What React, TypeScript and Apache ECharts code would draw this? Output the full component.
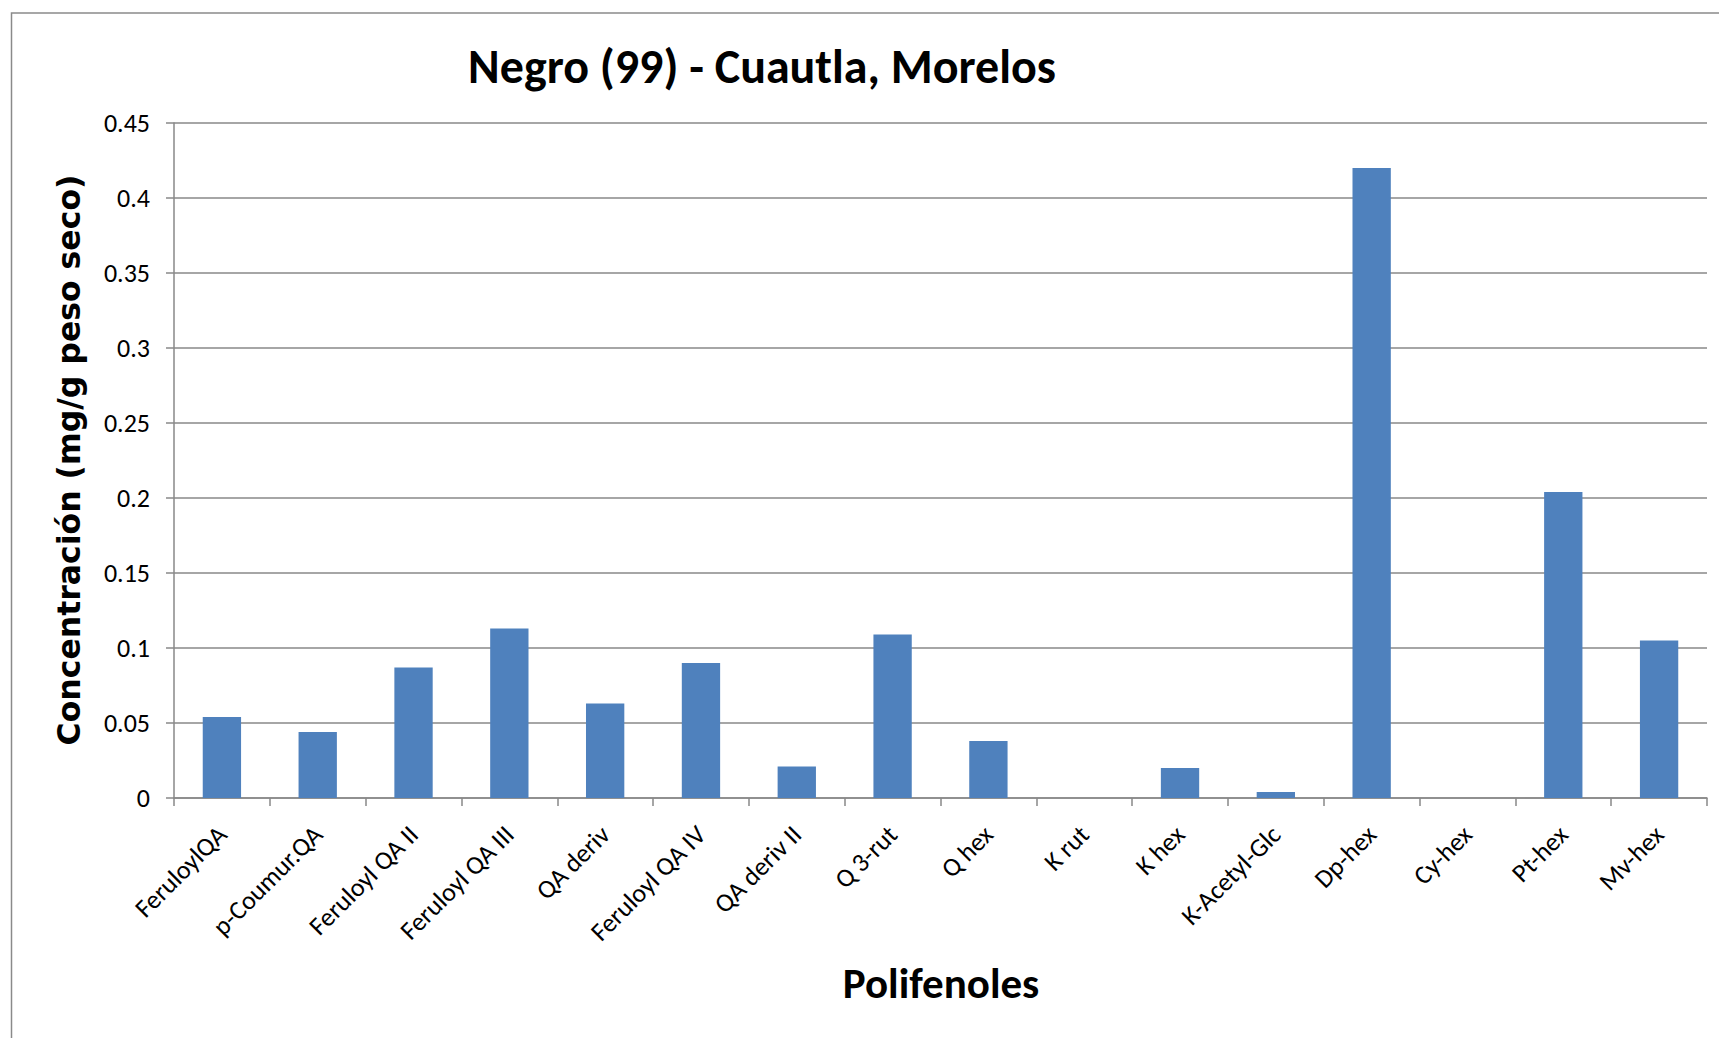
import React, { useEffect, useRef } from "react";
import * as echarts from "echarts";

const categories = [
  "FeruloylQA",
  "p-Coumur.QA",
  "Feruloyl QA II",
  "Feruloyl QA III",
  "QA deriv",
  "Feruloyl QA IV",
  "QA deriv II",
  "Q 3-rut",
  "Q hex",
  "K rut",
  "K hex",
  "K-Acetyl-Glc",
  "Dp-hex",
  "Cy-hex",
  "Pt-hex",
  "Mv-hex",
];
const values = [
  0.054, 0.044, 0.087, 0.113, 0.063, 0.09, 0.021, 0.109, 0.038, 0, 0.02, 0.004,
  0.42, 0, 0.204, 0.105,
];
const yTicks = [0, 0.05, 0.1, 0.15, 0.2, 0.25, 0.3, 0.35, 0.4, 0.45];
const titleText = "Negro (99) - Cuautla, Morelos";
const yName = "Concentración (mg/g peso seco)";
const xName = "Polifenoles";

const FONT = "Carlito, Lato, 'Open Sans', sans-serif";

export default function App() {
  const ref = useRef<HTMLDivElement>(null);
  useEffect(() => {
    if (!ref.current) return;
    const chart = echarts.init(ref.current, undefined, { renderer: "svg" });
    const gridColor = "#888888";
    chart.setOption({
      animation: false,
      backgroundColor: "#ffffff",
      grid: { left: 174, right: 12, top: 123, bottom: 240, containLabel: false },
      xAxis: {
        type: "category",
        data: categories,
        axisLine: { show: true, lineStyle: { color: gridColor, width: 1.5 } },
        axisTick: { show: true, length: 8, lineStyle: { color: gridColor, width: 1.5 } },
        axisLabel: {
          rotate: 45,
          margin: 32,
          interval: 0,
          fontFamily: FONT,
          fontSize: 26,
          color: "#000",
        },
      },
      yAxis: {
        type: "value",
        min: 0,
        max: yTicks[yTicks.length - 1],
        interval: 0.05,
        axisLine: { show: true, lineStyle: { color: gridColor, width: 1.5 } },
        axisTick: { show: true, length: 8, lineStyle: { color: gridColor, width: 1.5 } },
        splitLine: { show: true, lineStyle: { color: gridColor, width: 1.5 } },
        axisLabel: {
          margin: 24,
          fontFamily: FONT,
          fontSize: 26,
          color: "#000",
          formatter: (v: number) => String(parseFloat(v.toFixed(2))),
        },
      },
      series: [
        {
          type: "bar",
          data: values,
          barWidth: "40%",
          itemStyle: { color: "#4F81BD" },
        },
      ],
      graphic: [
        {
          type: "rect",
          left: 9,
          top: 10.5,
          shape: { x: 0, y: 0, width: 1800, height: 1100 },
          style: { fill: "none", stroke: "#8a8a8a", lineWidth: 1.5 },
          silent: true,
          z: -1,
        },
        {
          type: "text",
          x: 762,
          y: 66,
          style: {
            text: titleText,
            fontFamily: FONT,
            fontWeight: "bold",
            fontSize: 48,
            fill: "#000",
            textAlign: "center",
            textVerticalAlign: "middle",
          },
        },
        {
          type: "text",
          x: 69,
          y: 460,
          rotation: Math.PI / 2,
          style: {
            text: yName,
            fontFamily: "'DejaVu Sans', Verdana, sans-serif",
            fontWeight: "bold",
            fontSize: 31.5,
            fill: "#000",
            textAlign: "center",
            textVerticalAlign: "middle",
          },
        },
        {
          type: "text",
          x: 941,
          y: 983,
          style: {
            text: xName,
            fontFamily: FONT,
            fontWeight: "bold",
            fontSize: 43,
            fill: "#000",
            textAlign: "center",
            textVerticalAlign: "middle",
          },
        },
      ],
    });
    return () => chart.dispose();
  }, []);
  return (
    <div
      ref={ref}
      style={{ position: "fixed", left: 0, top: 0, width: 1719, height: 1038 }}
    />
  );
}
